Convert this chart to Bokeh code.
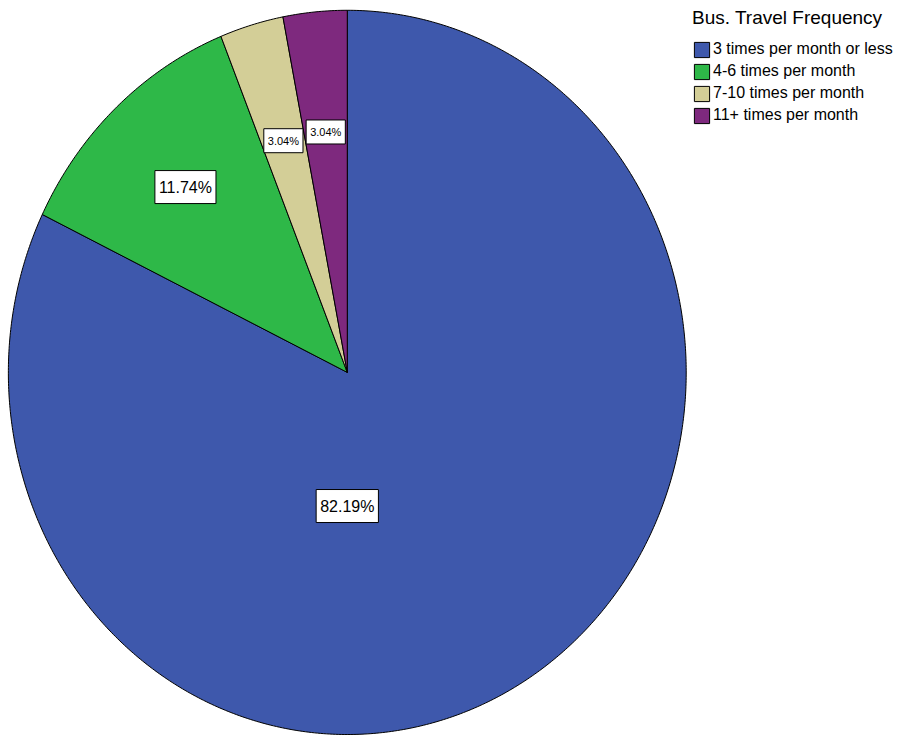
import numpy as np
from bokeh.plotting import figure
from bokeh.models import ColumnDataSource, Range1d, Label, Legend, LegendItem
from bokeh.embed import file_html
from bokeh.resources import INLINE

# ---- data ----
categories = ["3 times per month or less", "4-6 times per month",
              "7-10 times per month", "11+ times per month"]
percents = [82.19, 11.74, 3.04, 3.04]
colors = ["#3E58AC", "#2EB848", "#D3CE97", "#7E297E"]
legend_title = "Bus. Travel Frequency"

# ---- layout ----
W, H = 893, 735
cx, cy = 353.0, 380.0     # pie centre (reference pixels)
rx, ry = 345.0, 370.0     # elliptical radii
FONT = "Liberation Sans"

p = figure(width=W, height=H, output_backend="svg", toolbar_location=None,
           x_range=Range1d(0, 909), y_range=Range1d(751, 0),
           min_border=0, outline_line_color=None)
p.axis.visible = False
p.grid.visible = False

total = sum(percents)
fracs = [v / total for v in percents]
xs, ys, mids = [], [], []
start = 90.0
for f in fracs:
    end = start - f * 360.0
    n = max(4, int(abs(end - start) * 2))
    t = np.radians(np.linspace(start, end, n))
    xs.append([cx] + list(cx + rx * np.cos(t)))
    ys.append([cy] + list(cy - ry * np.sin(t)))
    mids.append((start + end) / 2.0)
    start = end

src = ColumnDataSource(dict(xs=xs, ys=ys, color=colors, cat=categories))
r = p.patches("xs", "ys", source=src, fill_color="color", line_color="black",
              line_width=1)

# labels
label_angle = [-90.0] + mids[1:]
label_f = [0.369, 0.70, 0.667, 0.667]
label_size = ["16px", "16px", "11px", "11px"]
label_pad = [(4, 8), (4, 8), (4, 6), (4, 6)]
for pct, ang, fr, fs, pad in zip(percents, label_angle, label_f, label_size, label_pad):
    a = np.radians(ang)
    lx = cx + fr * rx * np.cos(a)
    ly = cy - fr * ry * np.sin(a)
    p.add_layout(Label(x=lx, y=ly, text=f"{pct:.2f}%", text_align="center",
                       text_baseline="middle", text_font=FONT,
                       text_font_size=fs, text_color="black",
                       background_fill_color="white",
                       border_line_color="black", border_line_width=1,
                       padding=pad))

items = [LegendItem(label=c, renderers=[r], index=i)
         for i, c in enumerate(categories)]
legend = Legend(items=items, title=legend_title,
                location=(692, 609),
                title_text_font=FONT, title_text_font_size="19px",
                title_text_font_style="normal", title_text_color="black",
                title_standoff=9,
                label_text_font=FONT, label_text_font_size="16px",
                label_text_color="black",
                glyph_width=19, glyph_height=19, label_height=22,
                label_standoff=2, spacing=0, padding=0, margin=0,
                border_line_color=None, background_fill_alpha=0)
p.add_layout(legend, "center")

open("out.html", "w").write(file_html(p, INLINE))
